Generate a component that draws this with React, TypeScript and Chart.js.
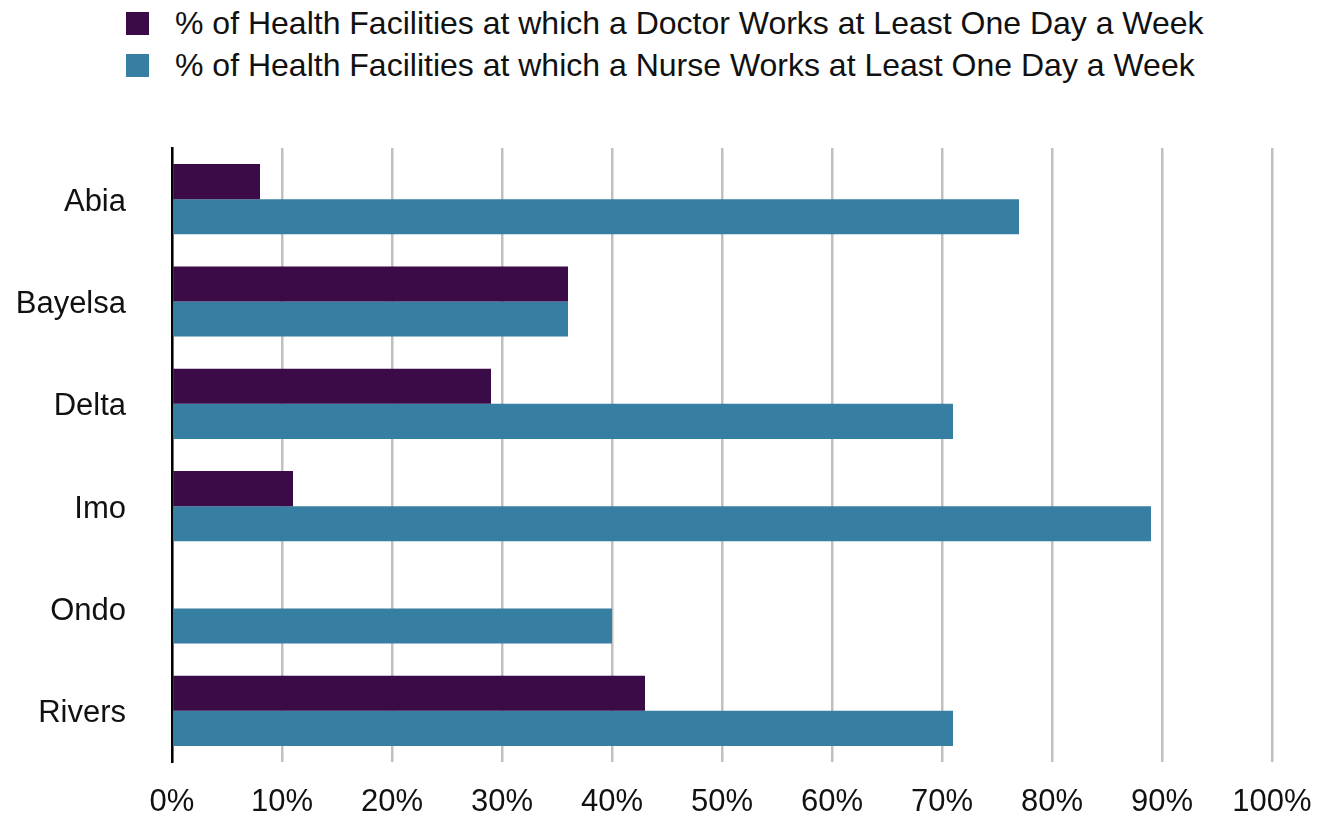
import React, { useEffect, useRef } from "react";
import { Chart, registerables } from "chart.js";

Chart.register(...registerables);

const categories = ["Abia", "Bayelsa", "Delta", "Imo", "Ondo", "Rivers"];
const doctorValues = [8, 36, 29, 11, 0, 43];
const nurseValues = [77, 36, 71, 89, 40, 71];
const seriesLabels = [
  "% of Health Facilities at which a Doctor Works at Least One Day a Week",
  "% of Health Facilities at which a Nurse Works at Least One Day a Week",
];
const seriesColors = ["#3b0b47", "#367fa2"];

const FONT = "'Liberation Sans', Arial, sans-serif";

export default function App() {
  const canvasRef = useRef<HTMLCanvasElement | null>(null);

  useEffect(() => {
    if (!canvasRef.current) return;
    const chart = new Chart(canvasRef.current, {
      type: "bar",
      data: {
        labels: categories,
        datasets: [
          {
            label: seriesLabels[0],
            data: doctorValues,
            backgroundColor: seriesColors[0],
            categoryPercentage: 0.685,
            barPercentage: 1,
          },
          {
            label: seriesLabels[1],
            data: nurseValues,
            backgroundColor: seriesColors[1],
            categoryPercentage: 0.685,
            barPercentage: 1,
          },
        ],
      },
      options: {
        indexAxis: "y",
        animation: false,
        responsive: false,
        layout: { padding: { top: 148, right: 46, left: 0, bottom: 0 } },
        plugins: {
          legend: { display: false },
          tooltip: { enabled: false },
        },
        scales: {
          x: {
            min: 0,
            max: 100,
            ticks: {
              stepSize: 10,
              callback: (v: any) => v + "%",
              color: "#111",
              font: { family: FONT, size: 31 },
              padding: 22,
            },
            grid: { color: "#c0c0c0", lineWidth: 2.5, drawTicks: false },
            border: { display: false },
            afterFit: (s: any) => {
              s.height = 57;
              s.paddingLeft = 0;
              s.paddingRight = 0;
            },
          },
          y: {
            ticks: {
              color: "#111",
              font: { family: FONT, size: 31 },
              padding: 46,
              labelOffset: 3,
            },
            grid: { display: false, drawTicks: false },
            border: { display: true, color: "#000", width: 2.5 },
            afterFit: (s: any) => {
              s.width = 172;
              s.paddingTop = 0;
              s.paddingBottom = 0;
            },
          },
        },
      },
    });
    return () => chart.destroy();
  }, []);

  return (
    <div style={{ position: "absolute", left: 0, top: 0, width: 1318, height: 819, background: "#fff" }}>
      {seriesLabels.map((lab, i) => (
        <div
          key={i}
          style={{
            position: "absolute",
            left: 126,
            top: 12 + i * 42,
            display: "flex",
            alignItems: "center",
            height: 23,
            fontFamily: FONT,
            fontSize: 32,
            color: "#111",
            whiteSpace: "nowrap",
          }}
        >
          <span style={{ display: "inline-block", width: 23, height: 23, background: seriesColors[i], marginRight: 26 }} />
          <span>{lab}</span>
        </div>
      ))}
      <canvas ref={canvasRef} width={1318} height={819} style={{ position: "absolute", left: 0, top: 0 }} />
    </div>
  );
}
